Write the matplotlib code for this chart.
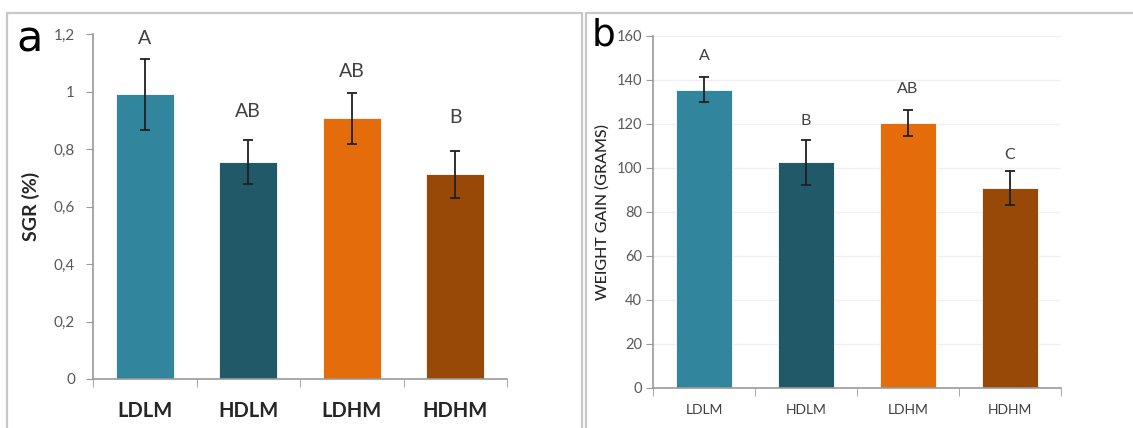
import numpy as np
import matplotlib
matplotlib.use('Agg')
import matplotlib.pyplot as plt
from matplotlib.patches import Rectangle

plt.rcParams['font.family'] = ['Lato', 'DejaVu Sans']

groups = ['LDLM', 'HDLM', 'LDHM', 'HDHM']
colors = ['#31859C', '#215968', '#E46C0A', '#984807']

sgr = [0.99, 0.755, 0.907, 0.712]
sgr_err = [0.123, 0.078, 0.088, 0.082]
sgr_letters = ['A', 'AB', 'AB', 'B']
sgr_letter_y = [1.186, 0.93, 1.07, 0.91]
sgr_ticks = [0, 0.2, 0.4, 0.6, 0.8, 1.0, 1.2]
sgr_ticklabels = ['0', '0,2', '0,4', '0,6', '0,8', '1', '1,2']

gain = [135.6, 102.5, 120.3, 90.7]
gain_err = [5.8, 10.1, 6.0, 7.8]
gain_letters = ['A', 'B', 'AB', 'C']
gain_letter_y = [150.9, 121.5, 135.9, 105.9]
gain_ticks = [0, 20, 40, 60, 80, 100, 120, 140, 160]

fig = plt.figure(figsize=(11.33, 4.28), dpi=100)

# panel frames
for x0, w in [(7 / 1133, 575 / 1133), (586 / 1133, 560 / 1133)]:
    fig.patches.append(Rectangle((x0, -0.05), w, 1.05 - 13 / 428, transform=fig.transFigure,
                                 fill=False, edgecolor='#c8c8c8', lw=1.6))

axes_grey = '#9a9a9a'
tick_col = '#595959'


def draw(ax, vals, errs, letters, letter_y, letter_size, bar_w):
    x = np.arange(len(groups))
    ax.bar(x, vals, width=bar_w, color=colors, edgecolor='white', linewidth=0.6, zorder=2)
    ax.errorbar(x, vals, yerr=errs, fmt='none', ecolor='#202020', elinewidth=1.3,
                capsize=3.5, capthick=1.3, zorder=3)
    for xi, t, yy in zip(x, letters, letter_y):
        ax.text(xi, yy, t, ha='center', va='center', fontsize=letter_size, color='#404040')
    ax.set_xlim(-0.5, len(groups) - 0.5)
    ax.set_xticks(x)
    ax.set_xticks(np.arange(len(groups) + 1) - 0.5, minor=True)
    ax.tick_params(axis='x', which='minor', length=6, color=axes_grey)
    ax.tick_params(axis='y', length=5, color=axes_grey, labelcolor=tick_col)
    for s in ['top', 'right']:
        ax.spines[s].set_visible(False)
    for s in ['left', 'bottom']:
        ax.spines[s].set_color(axes_grey)
        ax.spines[s].set_linewidth(1.2)


# panel a
ax1 = fig.add_axes([93 / 1133, 49 / 428, 414 / 1133, 345 / 428])
draw(ax1, sgr, sgr_err, sgr_letters, sgr_letter_y, 14, 0.56)
ax1.set_ylim(0, 1.2)
ax1.set_yticks(sgr_ticks)
ax1.set_yticklabels(sgr_ticklabels, fontsize=11)
ax1.tick_params(axis='y', pad=8)
ax1.tick_params(axis='x', which='major', length=0, pad=16)
ax1.set_xticklabels(groups, fontsize=14.5, fontweight='bold', color='#262626')
ax1.set_ylabel('SGR (%)', fontsize=14, fontweight='bold', color='#262626', labelpad=10)
fig.text(16 / 1133, 1 - 39 / 428, 'a', fontsize=31, va='center', ha='left',
         family='DejaVu Sans', color='black')

# panel b
ax2 = fig.add_axes([653 / 1133, 40.3 / 428, 408 / 1133, 351.7 / 428])
draw(ax2, gain, gain_err, gain_letters, gain_letter_y, 11.5, 0.55)
ax2.set_ylim(0, 160)
ax2.set_yticks(gain_ticks)
ax2.set_yticklabels([str(t) for t in gain_ticks], fontsize=10.5)
ax2.tick_params(axis='y', pad=3)
ax2.tick_params(axis='x', which='major', length=0, pad=12)
ax2.yaxis.grid(True, color='#f0f0f0', lw=1, zorder=0)
ax2.set_axisbelow(True)
ax2.set_xticklabels(groups, fontsize=10, color='#404040')
ax2.set_ylabel('WEIGHT GAIN (GRAMS)', fontsize=11.5, fontweight='medium',
               color='#262626', labelpad=5)
fig.text(592 / 1133, 1 - 36 / 428, 'b', fontsize=27, va='center', ha='left',
         family='DejaVu Sans', color='black')

fig.savefig('out.png', dpi=100, facecolor='white')
